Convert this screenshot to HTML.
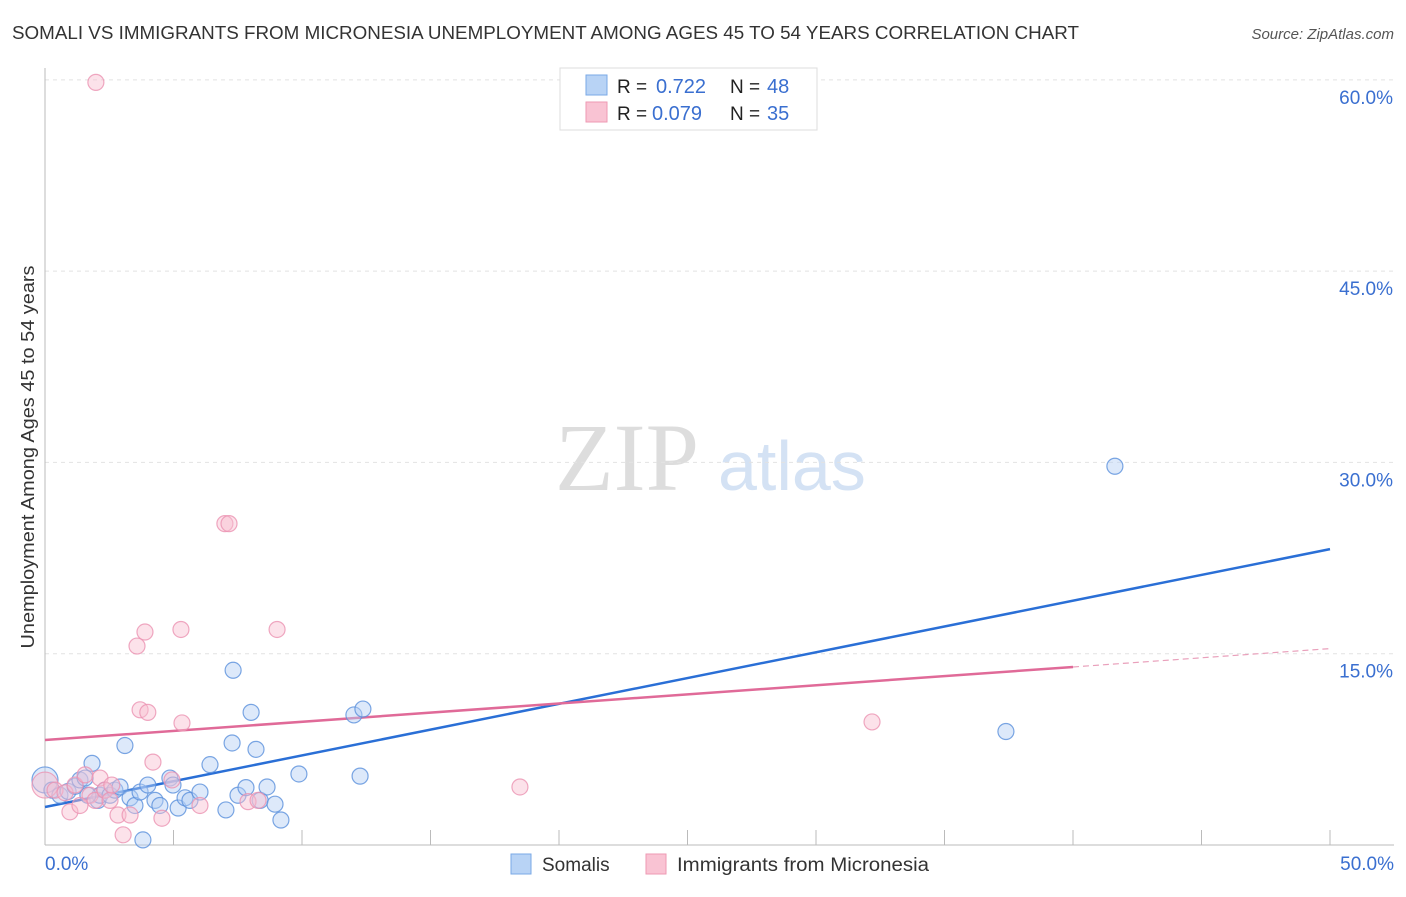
<!DOCTYPE html>
<html><head><meta charset="utf-8"><style>
body{margin:0;background:#fff;font-family:"Liberation Sans",sans-serif;}
svg text{font-family:"Liberation Sans",sans-serif;}
</style></head><body>
<svg width="1406" height="892" xmlns="http://www.w3.org/2000/svg">
<text x="12" y="39" font-size="18" fill="#333" textLength="1067" lengthAdjust="spacingAndGlyphs">SOMALI VS IMMIGRANTS FROM MICRONESIA UNEMPLOYMENT AMONG AGES 45 TO 54 YEARS CORRELATION CHART</text>
<text x="1394" y="39" font-size="15" fill="#555" font-style="italic" text-anchor="end">Source: ZipAtlas.com</text>
<text x="0" y="0" transform="translate(34,457) rotate(-90)" font-size="18" fill="#333" text-anchor="middle" textLength="383" lengthAdjust="spacingAndGlyphs">Unemployment Among Ages 45 to 54 years</text>
<text x="555" y="490" font-size="96" fill="#ddd" style="font-family:'Liberation Serif',serif">ZIP</text>
<text x="718" y="490" font-size="70" fill="#d4e2f4">atlas</text>
<g id="grid"></g>
<g id="axes"></g>
<g id="lines"></g>
<g id="pts"></g>
<g>
<rect x="560" y="68" width="257" height="62" fill="#fff" stroke="#ddd"/>
<rect x="586" y="75" width="21" height="20" fill="#b8d3f5" stroke="#7aa8e6"/>
<rect x="586" y="102" width="21" height="20" fill="#f9c3d3" stroke="#ee99b3"/>
<text x="617" y="93" font-size="19" fill="#222">R =</text>
<text x="656" y="93" font-size="20" fill="#3a6fd0">0.722</text>
<text x="730" y="93" font-size="19" fill="#222">N =</text>
<text x="767" y="93" font-size="20" fill="#3a6fd0">48</text>
<text x="617" y="120" font-size="19" fill="#222">R =</text>
<text x="652" y="120" font-size="20" fill="#3a6fd0">0.079</text>
<text x="730" y="120" font-size="19" fill="#222">N =</text>
<text x="767" y="120" font-size="20" fill="#3a6fd0">35</text>
</g>
<g>
<rect x="511" y="854" width="20" height="20" fill="#b8d3f5" stroke="#7aa8e6"/>
<text x="542" y="871" font-size="19" fill="#333">Somalis</text>
<rect x="646" y="854" width="20" height="20" fill="#f9c3d3" stroke="#ee99b3"/>
<text x="677" y="871" font-size="19" fill="#333" textLength="252" lengthAdjust="spacingAndGlyphs">Immigrants from Micronesia</text>
</g>
</svg>
<script>
const yTicks=[15,30,45,60];
const yTickLabels=["15.0%","30.0%","45.0%","60.0%"];
const xTicks=[0,5,10,15,20,25,30,35,40,45,50];
const blueX=[0,0.27,0.58,0.9,1.17,1.36,1.56,1.83,2.06,2.14,2.33,2.53,2.72,2.92,3.11,3.31,3.5,3.7,4.0,4.28,4.47,4.86,4.98,5.18,5.45,5.64,6.03,6.42,7.04,7.28,7.51,7.82,8.02,8.21,8.37,8.64,8.95,9.18,9.88,12.02,12.26,12.37,7.32,3.81,41.63,37.39,1.67];
const blueY=[5.1,4.3,3.9,4.2,4.6,5.1,5.25,6.4,3.5,3.9,4.3,3.9,4.3,4.55,7.8,3.7,3.1,4.15,4.7,3.5,3.1,5.25,4.7,2.9,3.7,3.5,4.15,6.3,2.75,8.0,3.9,4.5,10.4,7.5,3.5,4.55,3.2,1.96,5.57,10.2,5.4,10.66,13.7,0.4,29.7,8.9,3.9];
const pinkX=[0,0.39,0.78,1.17,1.56,1.75,1.95,2.14,2.33,2.53,2.84,3.04,3.31,3.7,3.89,3.58,4.0,4.2,4.55,4.94,5.29,5.33,6.03,7.0,7.16,7.9,9.03,1.98,0.97,1.36,18.48,32.18,2.6,8.29];
const pinkY=[4.7,4.3,4.1,4.7,5.5,3.9,3.5,5.25,4.3,3.5,2.35,0.8,2.35,10.6,16.7,15.6,10.4,6.5,2.1,5.1,16.9,9.57,3.1,25.2,25.2,3.4,16.9,59.8,2.6,3.1,4.55,9.65,4.7,3.5];
const blueLine=[2.98,23.2];
const pinkLine=[8.23,13.96,15.4];
const NS="http://www.w3.org/2000/svg";
const X=v=>45+v*25.7, Y=v=>845-v*12.753;
function mk(p,t,a){const e=document.createElementNS(NS,t);for(const k in a)e.setAttribute(k,a[k]);document.getElementById(p).appendChild(e);return e;}
yTicks.forEach((t,i)=>{
 let l=mk('grid','line',{x1:45,x2:1394,y1:Y(t),y2:Y(t),stroke:'#e2e2e2','stroke-dasharray':'4,4'});
 
 
 let tx=mk('grid','text',{x:1393,y:Y(t)+24,'font-size':19,fill:'#3a6fd0','text-anchor':'end'});
 tx.textContent=yTickLabels[i];
 
 
});
let ax=mk('axes','line',{x1:45,x2:45,y1:68,y2:845,stroke:'#bbb'});


let bx=mk('axes','line',{x1:45,x2:1394,y1:845,y2:845,stroke:'#bbb'});


xTicks.forEach(t=>{let l=mk('axes','line',{x1:X(t),x2:X(t),y1:830,y2:845,stroke:'#bbb'});
 
 });
[[0,"0.0%",'start',45],[50,"50.0%",'end',1394]].forEach(d=>{let t=mk('axes','text',{x:d[3],y:870,'font-size':19,fill:'#3a6fd0','text-anchor':d[2]});t.textContent=d[1];
 
 });
function pts(xs,ys,f,s,name){xs.forEach((x,i)=>{let c=mk('pts','circle',{cx:X(x),cy:Y(ys[i]),r:(i==0?13:8),fill:f,'fill-opacity':0.45,stroke:s,'stroke-opacity':0.8,'stroke-width':1.2});
 
 });}
pts(blueX,blueY,'#b3cff3','#5a90dc','somali-point');
pts(pinkX,pinkY,'#f8bfd1','#eb92b1','micronesia-point');
let bl=mk('lines','line',{x1:X(0),y1:Y(blueLine[0]),x2:X(50),y2:Y(blueLine[1]),stroke:'#2a6fd6','stroke-width':2.5});


let pl=mk('lines','line',{x1:X(0),y1:Y(pinkLine[0]),x2:X(40),y2:Y(pinkLine[1]),stroke:'#e06a98','stroke-width':2.5});


let pd=mk('lines','line',{x1:X(40),y1:Y(pinkLine[1]),x2:X(50),y2:Y(pinkLine[2]),stroke:'#e9a0bb','stroke-width':1.2,'stroke-dasharray':'6,4'});


</script>
</body></html>
